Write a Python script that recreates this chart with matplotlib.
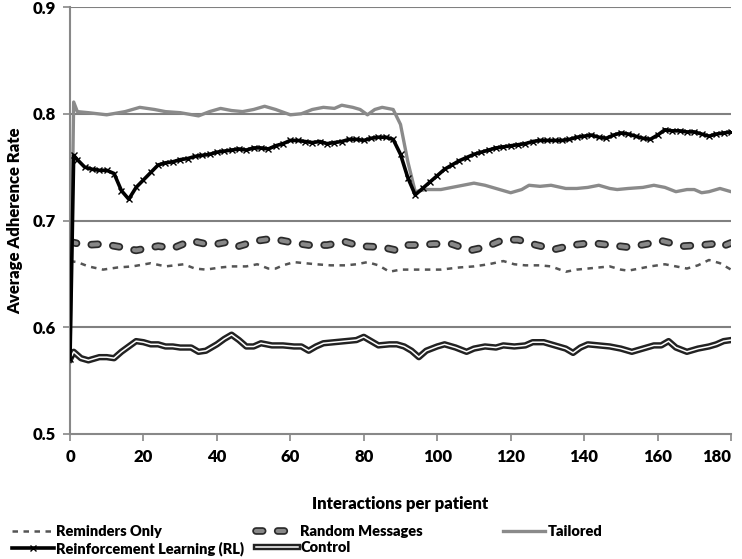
import matplotlib
matplotlib.use("Agg")
import matplotlib.pyplot as plt
import matplotlib.patheffects as pe

plt.rcParams['font.family'] = ['Lato', 'DejaVu Sans']

# ---------------- data ----------------
x_rl = [0, 1, 2, 4, 6, 8, 10, 12, 14, 16, 18, 20, 22, 24, 26, 28, 30, 32, 34, 36, 38, 40,
        42, 44, 46, 48, 50, 52, 54, 56, 58, 60, 62, 64, 66, 68, 70, 72, 74, 76, 78, 80, 82,
        84, 86, 88, 90, 92, 94, 96, 98, 100, 102, 104, 106, 108, 110, 112, 114, 116, 118,
        120, 122, 124, 126, 128, 130, 132, 134, 136, 138, 140, 142, 144, 146, 148, 150, 152,
        154, 156, 158, 160, 162, 164, 166, 168, 170, 172, 174, 176, 178, 180]
y_rl = [0.570, 0.761, 0.757, 0.750, 0.748, 0.747, 0.747, 0.744, 0.728, 0.720, 0.731, 0.738,
        0.745, 0.752, 0.754, 0.755, 0.757, 0.758, 0.760, 0.761, 0.762, 0.764, 0.765, 0.766,
        0.767, 0.766, 0.768, 0.768, 0.767, 0.770, 0.772, 0.775, 0.775, 0.774, 0.773, 0.774,
        0.772, 0.773, 0.774, 0.776, 0.776, 0.775, 0.777, 0.778, 0.778, 0.776, 0.762, 0.740,
        0.724, 0.730, 0.736, 0.742, 0.748, 0.752, 0.756, 0.759, 0.762, 0.764, 0.766, 0.768,
        0.769, 0.770, 0.771, 0.772, 0.774, 0.775, 0.775, 0.775, 0.775, 0.776, 0.778, 0.779,
        0.780, 0.778, 0.777, 0.780, 0.782, 0.781, 0.779, 0.777, 0.776, 0.780, 0.785, 0.784,
        0.784, 0.783, 0.783, 0.781, 0.779, 0.781, 0.782, 0.783]

x_tail = [0, 1, 2, 5, 10, 15, 19, 23, 26, 30, 35, 38, 41, 44, 47, 50, 53, 56, 60, 63, 66, 69,
          72, 74, 77, 79, 81, 83, 85, 88, 90, 92, 94, 97, 101, 104, 107, 110, 113, 117, 120,
          123, 125, 128, 131, 135, 138, 141, 144, 147, 149, 152, 156, 159, 162, 165, 168, 170,
          172, 174, 177, 180]
y_tail = [0.570, 0.811, 0.802, 0.801, 0.799, 0.802, 0.806, 0.804, 0.802, 0.801, 0.798, 0.802,
          0.805, 0.803, 0.802, 0.804, 0.807, 0.804, 0.799, 0.800, 0.804, 0.806, 0.805, 0.808,
          0.806, 0.804, 0.799, 0.804, 0.806, 0.804, 0.790, 0.755, 0.727, 0.729, 0.729, 0.731,
          0.733, 0.735, 0.733, 0.729, 0.726, 0.729, 0.733, 0.732, 0.733, 0.730, 0.730, 0.731,
          0.733, 0.730, 0.729, 0.730, 0.731, 0.733, 0.731, 0.727, 0.729, 0.729, 0.726, 0.727,
          0.730, 0.727]

x_rand = [0, 4, 9, 14, 18, 21, 24, 28, 33, 37, 40, 43, 46, 51, 55, 58, 61, 65, 70, 75, 79, 85,
          89, 92, 95, 99, 104, 109, 113, 118, 122, 127, 132, 137, 142, 147, 152, 157, 161, 167,
          172, 175, 177, 180]
y_rand = [0.680, 0.677, 0.678, 0.675, 0.672, 0.674, 0.676, 0.674, 0.681, 0.678, 0.678, 0.680,
          0.676, 0.681, 0.683, 0.681, 0.679, 0.677, 0.677, 0.680, 0.676, 0.675, 0.672, 0.677,
          0.677, 0.678, 0.678, 0.672, 0.675, 0.682, 0.682, 0.677, 0.673, 0.677, 0.679, 0.677,
          0.675, 0.678, 0.681, 0.676, 0.677, 0.678, 0.675, 0.679]

x_rem = [0, 2, 5, 9, 13, 17, 22, 26, 31, 34, 37, 41, 44, 48, 51, 54, 56, 58, 61, 64, 67, 71,
         75, 78, 81, 84, 87, 90, 95, 101, 106, 110, 114, 118, 121, 124, 128, 131, 135, 138,
         141, 144, 147, 150, 152, 155, 158, 162, 165, 168, 171, 174, 177, 180]
y_rem = [0.662, 0.661, 0.657, 0.654, 0.656, 0.657, 0.660, 0.657, 0.659, 0.655, 0.654, 0.656,
         0.657, 0.657, 0.659, 0.655, 0.655, 0.658, 0.661, 0.660, 0.659, 0.658, 0.658, 0.659,
         0.661, 0.658, 0.652, 0.654, 0.654, 0.654, 0.656, 0.657, 0.659, 0.662, 0.659, 0.658,
         0.658, 0.657, 0.652, 0.654, 0.655, 0.656, 0.657, 0.654, 0.653, 0.655, 0.657, 0.659,
         0.657, 0.655, 0.658, 0.663, 0.660, 0.654]

x_ctrl = [0, 1, 3, 5, 8, 10, 12, 14, 16, 18, 20, 22, 24, 26, 28, 30, 33, 35, 37, 40, 42, 44,
          46, 48, 50, 52, 55, 58, 61, 63, 65, 67, 69, 72, 75, 78, 80, 82, 84, 87, 89, 91, 93,
          95, 97, 100, 102, 105, 108, 110, 113, 116, 118, 121, 124, 126, 129, 131, 133, 135,
          137, 139, 141, 144, 147, 150, 153, 156, 159, 161, 163, 165, 168, 171, 174, 176, 178,
          180]
y_ctrl = [0.570, 0.577, 0.571, 0.569, 0.572, 0.572, 0.571, 0.577, 0.582, 0.587, 0.586, 0.584,
          0.584, 0.582, 0.582, 0.581, 0.581, 0.577, 0.578, 0.584, 0.589, 0.593, 0.588, 0.582,
          0.582, 0.585, 0.583, 0.583, 0.582, 0.582, 0.578, 0.582, 0.585, 0.586, 0.587, 0.588,
          0.591, 0.587, 0.583, 0.584, 0.584, 0.582, 0.578, 0.572, 0.578, 0.582, 0.584, 0.581,
          0.577, 0.580, 0.582, 0.581, 0.583, 0.582, 0.583, 0.586, 0.586, 0.584, 0.582, 0.580,
          0.576, 0.581, 0.584, 0.583, 0.582, 0.580, 0.577, 0.580, 0.583, 0.583, 0.587, 0.581,
          0.577, 0.580, 0.582, 0.584, 0.587, 0.588]

x_ticks = [0, 20, 40, 60, 80, 100, 120, 140, 160, 180]
y_ticks = [0.5, 0.6, 0.7, 0.8, 0.9]

# ---------------- figure ----------------
W, H = 742, 559
fig = plt.figure(figsize=(W / 100, H / 100), dpi=100)
ax = fig.add_axes([70 / W, 1 - 434 / H, (731 - 70) / W, (434 - 7) / H])

ax.set_xlim(0, 180)
ax.set_ylim(0.5, 0.9)
ax.set_xticks(x_ticks)
ax.set_yticks(y_ticks)
ax.set_xticklabels([str(t) for t in x_ticks], fontsize=12, fontweight='heavy')
ax.set_yticklabels(['%.1f' % t for t in y_ticks], fontsize=12, fontweight='heavy')
ax.tick_params(axis='both', direction='out', length=5, width=1.2, color='#888888', pad=5)
ax.tick_params(axis='x', pad=6)
ax.get_xticklabels()[-1].set_horizontalalignment('right')

for g in y_ticks[1:]:
    ax.axhline(g, color='#808080', lw=1.5, zorder=1)
for s in ['top', 'right']:
    ax.spines[s].set_visible(False)
for s in ['left', 'bottom']:
    ax.spines[s].set_color('#888888')
    ax.spines[s].set_linewidth(1.5)

# Control: double line
ctrl, = ax.plot(x_ctrl, y_ctrl, color='white', lw=1.1, zorder=3,
                path_effects=[pe.Stroke(linewidth=4.6, foreground='#222222'), pe.Normal()])
# Reminders only: thin dashed grey
rem, = ax.plot(x_rem, y_rem, color='#555555', lw=1.8, ls=(0, (2.2, 2.2)), zorder=3)
# Random messages: outlined thick dashes
rand, = ax.plot(x_rand, y_rand, color='#888888', lw=3.0, ls=(0, (1.6, 3.6)),
                dash_capstyle='round', zorder=3,
                path_effects=[pe.Stroke(linewidth=5.5, foreground='#2a2a2a', capstyle='round'),
                              pe.Normal()])
# Tailored: grey solid
tail, = ax.plot(x_tail, y_tail, color='#8a8a8a', lw=2.4, zorder=4)
# RL: black with x markers
rl, = ax.plot(x_rl, y_rl, color='black', lw=2.6, marker='x', markersize=5,
              markeredgewidth=1.0, zorder=5)

ax.set_ylabel('Average Adherence Rate', fontsize=12, fontweight='heavy', labelpad=7)
ax.set_xlabel('Interactions per patient', fontsize=12, fontweight='heavy', labelpad=22)

# ---------------- legend (three columns) ----------------
leg_kw = dict(frameon=False, handlelength=2.9, handletextpad=0.15,
              labelspacing=0.2, borderaxespad=0, borderpad=0,
              prop={'weight': 'heavy', 'size': 10.5})
fig.legend([rem, rl], ['Reminders Only', 'Reinforcement Learning (RL)'],
           loc='upper left', bbox_to_anchor=(12 / W, 1 - 525 / H), **leg_kw)
fig.legend([rand, ctrl], ['Random Messages', 'Control'],
           loc='upper left', bbox_to_anchor=(256 / W, 1 - 525 / H), **leg_kw)
fig.legend([tail], ['Tailored'],
           loc='upper left', bbox_to_anchor=(503 / W, 1 - 525 / H), **leg_kw)

fig.savefig('out.png', dpi=100)
